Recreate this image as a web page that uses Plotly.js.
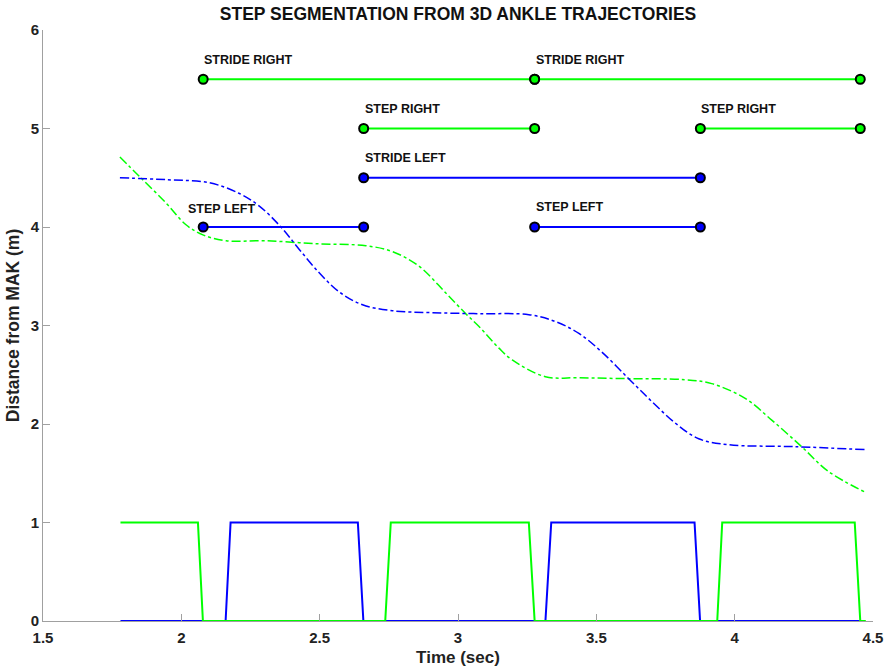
<!DOCTYPE html>
<html>
<head>
<meta charset="utf-8">
<script src="https://cdn.plot.ly/plotly-3.0.1.min.js"></script>
<style>
  html, body { margin: 0; padding: 0; background: #fff; }
  #plot { width: 886px; height: 671px; }
</style>
</head>
<body>
<div id="plot"></div>
<script>
// foot contact signals (1 = contact)
const rightContactT = [1.78, 2.06, 2.078, 2.737, 2.757, 3.256, 3.277, 3.937, 3.955, 4.434, 4.454, 4.474];
const rightContactV = [1, 1, 0, 0, 1, 1, 0, 0, 1, 1, 0, 0];
const leftContactT = [1.78, 2.16, 2.178, 2.638, 2.658, 3.316, 3.337, 3.855, 3.875, 4.452];
const leftContactV = [0, 0, 1, 1, 0, 0, 1, 1, 0, 0];

// ankle distance from MAK (m)
const leftAnkleT = [1.778, 1.95, 2.10, 2.21, 2.283, 2.36, 2.427, 2.50, 2.571, 2.655, 2.763, 2.907,
  3.076, 3.256, 3.352, 3.437, 3.52, 3.617, 3.70, 3.785, 3.87, 3.977, 4.218, 4.47];
const leftAnkleD = [4.50, 4.48, 4.45, 4.34, 4.21, 4.00, 3.77, 3.53, 3.34, 3.21, 3.15, 3.13,
  3.12, 3.11, 3.04, 2.92, 2.73, 2.46, 2.23, 2.01, 1.85, 1.79, 1.77, 1.74];
const rightAnkleT = [1.778, 1.85, 1.946, 2.018, 2.078, 2.162, 2.307, 2.487, 2.667, 2.763, 2.86, 2.956,
  3.028, 3.076, 3.148, 3.196, 3.316, 3.437, 3.617, 3.82, 3.917, 4.038, 4.134, 4.242, 4.338, 4.47];
const rightAnkleD = [4.71, 4.51, 4.24, 4.02, 3.92, 3.86, 3.86, 3.83, 3.81, 3.75, 3.60, 3.33,
  3.12, 2.99, 2.77, 2.65, 2.48, 2.47, 2.46, 2.45, 2.41, 2.26, 2.04, 1.77, 1.52, 1.31];

// gait events (sec)
const rightStrides = [[2.079, 3.277], [3.277, 4.454]];
const rightSteps = [[2.659, 3.277], [3.876, 4.454]];
const leftStrides = [[2.659, 3.876]];
const leftSteps = [[2.079, 2.659], [3.277, 3.876]];
const strideRightY = 5.5, stepRightY = 5, strideLeftY = 4.5, stepLeftY = 4;

// labels
const labelText = ['STRIDE RIGHT', 'STRIDE RIGHT', 'STEP RIGHT', 'STEP RIGHT', 'STRIDE LEFT', 'STEP LEFT', 'STEP LEFT'];
const labelX = [2.079, 3.277, 2.659, 3.876, 2.659, 2.019, 3.277];
const labelY = [5.70, 5.70, 5.20, 5.20, 4.70, 4.18, 4.20];

// ticks
const xTickVals = [1.5, 2, 2.5, 3, 3.5, 4, 4.5];
const xTickText = ['1.5', '2', '2.5', '3', '3.5', '4', '4.5'];
const yTickVals = [0, 1, 2, 3, 4, 5, 6];
const yTickText = ['0', '1', '2', '3', '4', '5', '6'];

const GREEN = '#00ff00';
const BLUE = '#0000ff';
const FONT = 'Liberation Sans, Arial, sans-serif';

const traces = [];

traces.push({
  x: rightAnkleT, y: rightAnkleD, type: 'scatter', mode: 'lines',
  line: { color: GREEN, width: 1.5, dash: 'dashdot', shape: 'spline' }
});
traces.push({
  x: leftAnkleT, y: leftAnkleD, type: 'scatter', mode: 'lines',
  line: { color: BLUE, width: 1.5, dash: 'dashdot', shape: 'spline' }
});

traces.push({
  x: leftContactT, y: leftContactV, type: 'scatter', mode: 'lines',
  line: { color: BLUE, width: 2 }
});
traces.push({
  x: rightContactT, y: rightContactV, type: 'scatter', mode: 'lines',
  line: { color: GREEN, width: 2 }
});

function segTraces(segs, yVal, color) {
  segs.forEach(s => {
    traces.push({
      x: s, y: [yVal, yVal], type: 'scatter', mode: 'lines+markers',
      line: { color: color, width: 2 },
      marker: { color: color, size: 9, line: { color: '#000', width: 2 } }
    });
  });
}
segTraces(rightStrides, strideRightY, GREEN);
segTraces(rightSteps, stepRightY, GREEN);
segTraces(leftStrides, strideLeftY, BLUE);
segTraces(leftSteps, stepLeftY, BLUE);

const annotations = labelText.map((t, i) => ({
  x: labelX[i], y: labelY[i], xref: 'x', yref: 'y',
  text: '<b>' + t + '</b>', showarrow: false,
  xanchor: 'left', yanchor: 'middle', borderpad: 0,
  font: { family: FONT, size: 12.5, color: '#111' }
}));

const bold = arr => arr.map(s => '<b>' + s + '</b>');

const axisCommon = {
  showgrid: false, zeroline: false, showline: true,
  linecolor: '#a0a0a0', linewidth: 1,
  ticks: 'inside', ticklen: 7, tickcolor: '#a0a0a0',
  tickmode: 'array',
  tickfont: { family: FONT, size: 15, color: '#222' }
};

const layout = {
  width: 886, height: 671,
  margin: { l: 43, r: 13, t: 30, b: 50 },
  paper_bgcolor: '#fff', plot_bgcolor: '#fff',
  showlegend: false,
  font: { family: FONT, color: '#222' },
  title: {
    text: '<b>STEP SEGMENTATION FROM 3D ANKLE TRAJECTORIES</b>',
    x: 0.517, xanchor: 'center', y: 0.979, yanchor: 'middle',
    font: { family: FONT, size: 17.5, color: '#111' }
  },
  xaxis: Object.assign({}, axisCommon, {
    range: [1.5, 4.5], tickvals: xTickVals, ticktext: bold(xTickText),
    ticklabelstandoff: 3,
    title: { text: '<b>Time (sec)</b>', standoff: 6,
      font: { family: FONT, size: 17, color: '#222' } }
  }),
  yaxis: Object.assign({}, axisCommon, {
    range: [0, 6], tickvals: yTickVals, ticktext: bold(yTickText),
    title: { text: '<b>Distance from MAK (m)</b>', standoff: 6,
      font: { family: FONT, size: 17.5, color: '#222' } }
  }),
  annotations: annotations
};

Plotly.newPlot('plot', traces, layout, { displayModeBar: false, staticPlot: true });
</script>
</body>
</html>
